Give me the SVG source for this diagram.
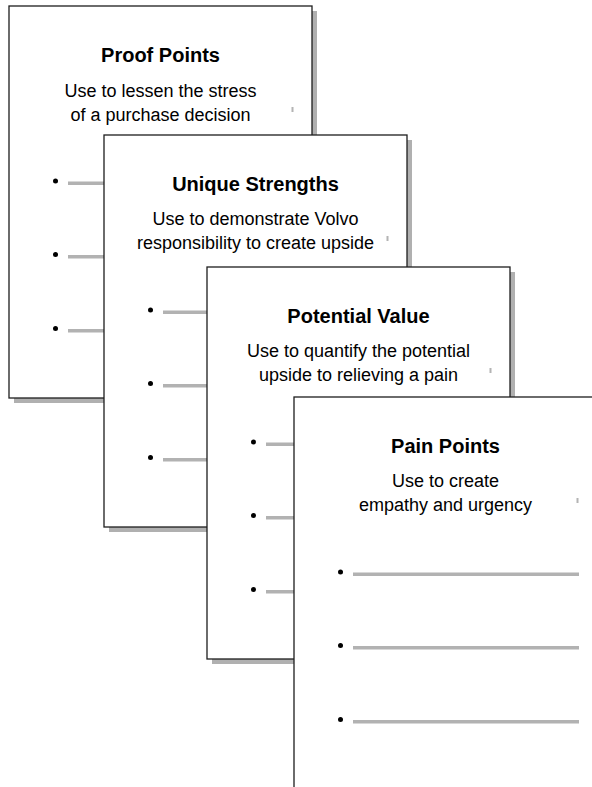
<svg xmlns="http://www.w3.org/2000/svg" xmlns:xlink="http://www.w3.org/1999/xlink" width="592" height="787" viewBox="0 0 592 787">
<style>
.shadow{fill:#b0b0b0}
.frame{fill:#ffffff;stroke:#1e1e1e;stroke-width:1.3}
.tick{fill:#b4b4b4}
.bullet{fill:#000000}
.rule{fill:#b2b2b2}
.title{font-family:"Liberation Sans",Arial,sans-serif;font-weight:bold;font-size:20px;fill:#000;text-anchor:middle}
.sub{font-family:"Liberation Sans",Arial,sans-serif;font-size:18px;fill:#000;text-anchor:middle}
</style>
<defs>
<g id="card">
<rect class="shadow" x="5" y="5" width="303" height="392"/>
<rect class="frame" x="0" y="0" width="303" height="392"/>
<rect class="tick" x="282.5" y="101" width="2" height="5"/>
<circle class="bullet" cx="46.5" cy="175" r="2.5"/>
<circle class="bullet" cx="46.5" cy="248.5" r="2.5"/>
<circle class="bullet" cx="46.5" cy="322.5" r="2.5"/>
<rect class="rule" x="59" y="175.5" width="226" height="3.5"/>
<rect class="rule" x="59" y="249" width="226" height="3.5"/>
<rect class="rule" x="59" y="323" width="226" height="3.5"/>
</g>
</defs>
<g id="proof-points">
<use xlink:href="#card" href="#card" x="9" y="6"/>
<text class="title" x="160.5" y="62">Proof Points</text>
<text class="sub" x="160.5" y="97">Use to lessen the stress</text>
<text class="sub" x="160.5" y="121">of a purchase decision</text>
</g>
<g id="unique-strengths">
<use xlink:href="#card" href="#card" x="104" y="135"/>
<text class="title" x="255.5" y="191">Unique Strengths</text>
<text class="sub" x="255.5" y="225">Use to demonstrate Volvo</text>
<text class="sub" x="255.5" y="249">responsibility to create upside</text>
</g>
<g id="potential-value">
<use xlink:href="#card" href="#card" x="207" y="267"/>
<text class="title" x="358.5" y="323">Potential Value</text>
<text class="sub" x="358.5" y="357">Use to quantify the potential</text>
<text class="sub" x="358.5" y="381">upside to relieving a pain</text>
</g>
<g id="pain-points">
<use xlink:href="#card" href="#card" x="294" y="397"/>
<text class="title" x="445.5" y="453">Pain Points</text>
<text class="sub" x="445.5" y="487">Use to create</text>
<text class="sub" x="445.5" y="511">empathy and urgency</text>
</g>
<g id="connectors"/>
</svg>
